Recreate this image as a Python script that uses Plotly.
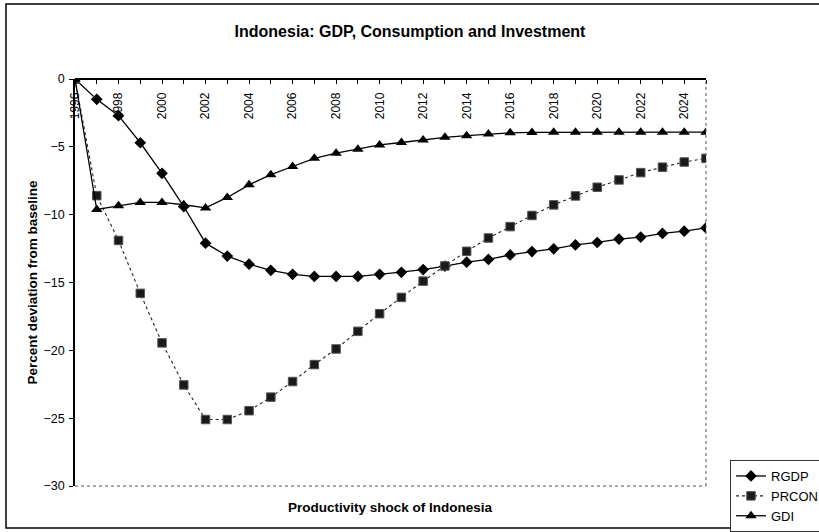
import plotly.graph_objects as go

years = list(range(1996, 2026))
rgdp = [0.0, -1.5, -2.7, -4.7, -6.95, -9.4, -12.1, -13.05, -13.65, -14.1, -14.4, -14.55, -14.55, -14.55,
        -14.4, -14.25, -14.05, -13.8, -13.5, -13.3, -12.97, -12.72, -12.52, -12.23, -12.05, -11.8, -11.65,
        -11.38, -11.22, -10.98]
prcon = [0.0, -8.6, -11.9, -15.8, -19.45, -22.55, -25.1, -25.1, -24.45, -23.45, -22.3, -21.05, -19.9, -18.6,
         -17.3, -16.1, -14.9, -13.78, -12.7, -11.72, -10.88, -10.06, -9.28, -8.62, -7.98, -7.44, -6.9,
         -6.5, -6.12, -5.85]
gdi = [0.0, -9.62, -9.35, -9.1, -9.1, -9.27, -9.5, -8.73, -7.8, -7.05, -6.45, -5.85, -5.47, -5.17,
       -4.86, -4.68, -4.5, -4.3, -4.18, -4.05, -3.97, -3.94, -3.93, -3.92, -3.92, -3.92, -3.92, -3.92,
       -3.92, -3.92]
tick_years = list(range(1996, 2026, 2))
y_ticks = [0, -5, -10, -15, -20, -25, -30]

FONT = "Liberation Sans, Arial, sans-serif"
W, H = 819, 532
L, R, T, B = 75, 706, 79, 486   # plot area in page pixels
PW, PH = R - L, B - T


def px(x):
    return (x - L) / PW


def py(y):
    return (B - y) / PH


fig = go.Figure()
fig.add_trace(go.Scatter(x=years, y=rgdp, name="RGDP", mode="lines+markers",
                         line=dict(color="black", width=1.3),
                         marker=dict(symbol="diamond", size=9, color="black")))
fig.add_trace(go.Scatter(x=years, y=prcon, name="PRCON", mode="lines+markers",
                         line=dict(color="#222222", width=1.1, dash="dot"),
                         marker=dict(symbol="square", size=8.5, color="#1a1a1a",
                                     line=dict(color="#555555", width=1))))
fig.add_trace(go.Scatter(x=years, y=gdi, name="GDI", mode="lines+markers",
                         line=dict(color="black", width=1.3),
                         marker=dict(symbol="triangle-up", size=10, color="black")))

fig.update_layout(
    width=W, height=H,
    margin=dict(l=L, r=W - R, t=T, b=H - B, autoexpand=False),
    paper_bgcolor="white", plot_bgcolor="white",
    font=dict(family=FONT, color="black", size=12),
    title=dict(text="<b>Indonesia: GDP, Consumption and Investment</b>", x=410 / W, xref="container",
               font=dict(size=16, family=FONT), y=1 - 31 / H, yanchor="middle", xanchor="center"),
    showlegend=True,
    legend=dict(x=px(730), y=py(460), xanchor="left", yanchor="top",
                bordercolor="#333333", borderwidth=1, bgcolor="white",
                font=dict(size=13, family=FONT), tracegroupgap=0, itemwidth=30),
)

fig.update_xaxes(range=[1996, 2025], side="bottom", anchor="free", position=1,
                 showline=True, linecolor="black", linewidth=1.5,
                 tickmode="array", tickvals=tick_years, ticktext=[str(y) for y in tick_years],
                 tickangle=-90, ticks="outside", ticklen=4, ticklabelstandoff=4,
                 tickcolor="black", showgrid=False, zeroline=False,
                 minor=dict(dtick=1, ticks="outside", ticklen=4, tickcolor="black", showgrid=False),
                 tickfont=dict(size=12, family=FONT))
fig.update_yaxes(range=[-30, 0], showline=True, linecolor="black", linewidth=1.5,
                 tickmode="array", tickvals=y_ticks, ticks="outside", ticklen=4, tickcolor="black",
                 showgrid=False, zeroline=False, ticklabelstandoff=2,
                 tickfont=dict(size=12.5, family=FONT),
                 title=dict(text="<b>Percent deviation from baseline</b>", font=dict(size=13.5, family=FONT),
                            standoff=3))

fig.add_annotation(text="<b>Productivity shock of Indonesia</b>", xref="paper", yref="paper",
                   x=px(390), y=py(507), showarrow=False, font=dict(size=13.5, family=FONT),
                   yanchor="middle", xanchor="center")

# plot-area right and bottom borders (dotted)
fig.add_shape(type="line", xref="paper", yref="paper", x0=1, x1=1, y0=0, y1=1,
              line=dict(color="#555555", width=1, dash="dot"))
fig.add_shape(type="line", xref="paper", yref="paper", x0=0, x1=1, y0=0, y1=0,
              line=dict(color="#555555", width=1, dash="dot"))
# outer chart border
fig.add_shape(type="rect", xref="paper", yref="paper",
              x0=px(6), x1=px(840), y0=py(528), y1=py(4),
              line=dict(color="black", width=1.5))

fig.write_html("out.html", config={"displayModeBar": False},
               post_script="document.body.style.margin='0';document.body.style.overflow='hidden';")
